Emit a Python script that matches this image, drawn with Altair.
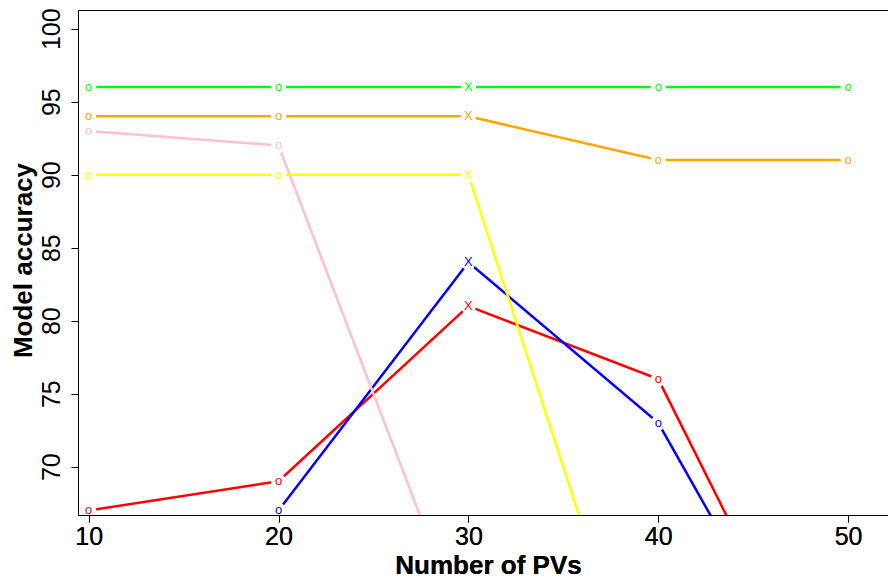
import altair as alt
import pandas as pd

# ---- data ----
pvs = [10, 20, 30, 40, 50]
series_names = ["red", "blue", "pink", "yellow", "orange", "green"]
series_colors = ["#FF0000", "#0000FF", "#FFC0CB", "#FFFF00", "#FFA500", "#00FF00"]
red_acc = [67, 69, 81, 76, 50]
blue_acc = [None, 67, 84, 73, 50]
pink_acc = [93, 92, 58, None, None]
yellow_acc = [90, 90, 90, 50, None]
orange_acc = [94, 94, 94, 91, 91]
green_acc = [96, 96, 96, 96, 96]
point_chars = ["o", "o", "X", "o", "o"]
y_ticks = [70, 75, 80, 85, 90, 95, 100]
x_ticks = [10, 20, 30, 40, 50]

all_acc = [red_acc, blue_acc, pink_acc, yellow_acc, orange_acc, green_acc]
rows = []
for name, accs in zip(series_names, all_acc):
    for i, (pv, acc, ch) in enumerate(zip(pvs, accs, point_chars)):
        if acc is not None:
            rows.append({"series": name, "order": i, "pv": pv, "acc": acc, "ch": ch})
df = pd.DataFrame(rows)

FONT = "Liberation Sans"
Y_MIN, Y_MAX = 66.69, 101.28
xscale = alt.Scale(domain=[9.44, 52.1], nice=False, zero=False)
yscale = alt.Scale(domain=[Y_MIN, Y_MAX], nice=False, zero=False)
color = alt.Color("series:N", scale=alt.Scale(domain=series_names, range=series_colors), legend=None)

y_axis = alt.Axis(
    values=y_ticks, title="Model accuracy", grid=False, orient="left",
    labelAngle=270, labelAlign="center", labelBaseline="alphabetic",
    labelFontSize=25, labelFont=FONT, labelColor="black", labelPadding=12,
    tickSize=7, tickColor="black", domainColor="black",
    titleFont=FONT, titleFontSize=26, titleFontWeight="bold", titleColor="black",
    titleAngle=270, titleAlign="center", titleBaseline="alphabetic",
    titleX=-47, titleY=250,
)
y_enc = alt.Y("acc:Q", scale=yscale, axis=y_axis)

x_bottom = alt.X("pv:Q", scale=xscale, axis=alt.Axis(
    values=x_ticks, title="Number of PVs", grid=False, orient="bottom",
    labelFontSize=25, labelFont=FONT, labelColor="black", labelPadding=2,
    labelAngle=0, tickSize=7, tickColor="black", domainColor="black",
    titleFont=FONT, titleFontSize=26, titleFontWeight="bold", titleColor="black",
    titleX=410, titleY=58.5, titleBaseline="alphabetic", titleAlign="center",
))
x_top = alt.X("pv:Q", scale=xscale, axis=alt.Axis(
    orient="top", labels=False, ticks=False, title="", grid=False,
    domainColor="black",
))

base = alt.Chart(df)
visible = alt.datum.acc >= Y_MIN
lines = base.mark_line(strokeWidth=2.5, clip=True).encode(
    x=x_bottom, y=y_enc, color=color, detail="series:N", order="order:Q"
)
gaps = base.transform_filter(visible).mark_point(
    shape="circle", filled=True, size=230, fill="#ffffff",
    fillOpacity=1, opacity=1, strokeOpacity=0, clip=True
).encode(x=x_bottom, y=y_enc)
marks = base.transform_filter(visible).mark_text(
    fontSize=13, font=FONT, align="center", baseline="middle", clip=True
).encode(x=x_top, y=y_enc, text="ch:N", color=color)

chart = alt.layer(lines, gaps, marks).resolve_axis(x="independent").properties(
    width=810, height=505,
    padding={"left": 78, "top": 10, "right": 0, "bottom": 66},
    autosize=alt.AutoSizeParams(type="none"),
    background="white",
).configure_view(strokeWidth=0)

chart.save("out.html", embed_options={"renderer": "svg", "actions": False})
